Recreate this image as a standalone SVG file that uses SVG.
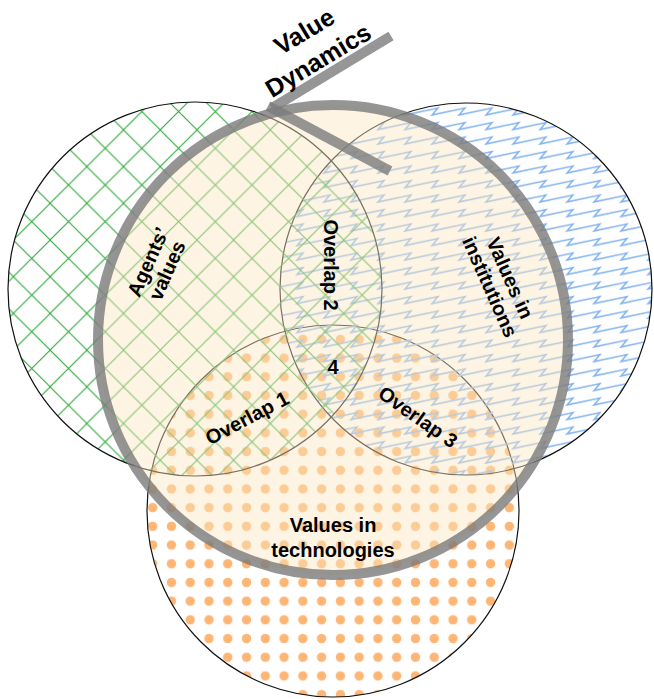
<svg xmlns="http://www.w3.org/2000/svg" width="654" height="699" viewBox="0 0 654 699">
  <style>
    .set { stroke: #111; stroke-width: 1.2; }
    .label { font-family: "Liberation Sans", Arial, Helvetica, sans-serif; font-weight: bold; font-size: 20px; fill: #000; text-anchor: middle; }
    .big { font-size: 25px; }
    .link { stroke: #7c7c7c; stroke-opacity: 0.8; stroke-width: 10; fill: none; stroke-linecap: butt; }
  </style>
  <defs>
    <!-- green cross hatch -->
    <pattern id="hatch" patternUnits="userSpaceOnUse" x="13.3" y="19.8" width="36.7" height="36.7">
      <path d="M-10,-46.7 L47,10 M-10,-10 L47,46.7 M-10,26.7 L47,83.4 M-10,10 L47,-46.7 M-10,46.7 L47,-10 M-10,83.4 L47,26.7" stroke="#2fa83a" stroke-width="1.1" fill="none"/>
    </pattern>
    <!-- blue zigzag rows -->
    <pattern id="zig" patternUnits="userSpaceOnUse" x="0" y="3" width="27" height="14.5">
      <path d="M-27,10.5 L6,3.5 L0,10.5 L33,3.5 L27,10.5 L60,3.5" stroke="#82b3f0" stroke-width="1.5" fill="none" stroke-linejoin="miter"/>
    </pattern>
    <!-- orange dot grid -->
    <pattern id="dots" patternUnits="userSpaceOnUse" x="143.3" y="479.6" width="18.77" height="18.7">
      <circle cx="9.385" cy="9.35" r="4.7" fill="#fdb675"/>
    </pattern>
  </defs>

  <rect width="654" height="699" fill="#fff"/>

  <!-- value sets -->
  <g id="node-technologies">
    <circle cx="333" cy="511" r="186" fill="url(#dots)" class="set"/>
  </g>
  <g id="node-institutions">
    <circle cx="466" cy="289" r="186" fill="url(#zig)" class="set"/>
  </g>
  <g id="node-agents">
    <circle cx="195" cy="289" r="187" fill="url(#hatch)" class="set"/>
  </g>

  <!-- value dynamics envelope -->
  <g id="node-dynamics">
    <circle cx="333" cy="340" r="235" fill="#fbe6c2" fill-opacity="0.45" stroke="#7a7a7a" stroke-opacity="0.8" stroke-width="10"/>
  </g>

  <!-- pointer from the caption to the envelope -->
  <g id="connectors">
    <line class="link" x1="391" y1="36" x2="272" y2="108"/>
    <line class="link" x1="268" y1="106" x2="390" y2="171"/>
  </g>

  <!-- captions -->
  <g id="label-dynamics">
    <text class="label big" transform="translate(304,31) rotate(-31)" dy="9">Value</text>
    <text class="label big" transform="translate(318,60) rotate(-31)" dy="9">Dynamics</text>
  </g>
  <g id="label-agents">
    <text class="label" transform="translate(157,266) rotate(-66)"><tspan x="0" y="-3">Agents’</tspan><tspan x="0" y="18">values</tspan></text>
  </g>
  <g id="label-institutions">
    <text class="label" transform="translate(501,282) rotate(66)"><tspan x="0" y="-3">Values in</tspan><tspan x="0" y="19">institutions</tspan></text>
  </g>
  <g id="label-technologies">
    <text class="label" x="333" y="532">Values in</text>
    <text class="label" x="333" y="557">technologies</text>
  </g>
  <g id="label-overlap1">
    <text class="label" transform="translate(247,418) rotate(-28)" dy="7">Overlap 1</text>
  </g>
  <g id="label-overlap2">
    <text class="label" transform="translate(331,265) rotate(90)" dy="7">Overlap 2</text>
  </g>
  <g id="label-overlap3">
    <text class="label" transform="translate(418,417) rotate(35)" dy="7">Overlap 3</text>
  </g>
  <g id="label-center">
    <text class="label" x="333" y="374" font-size="18">4</text>
  </g>
</svg>
